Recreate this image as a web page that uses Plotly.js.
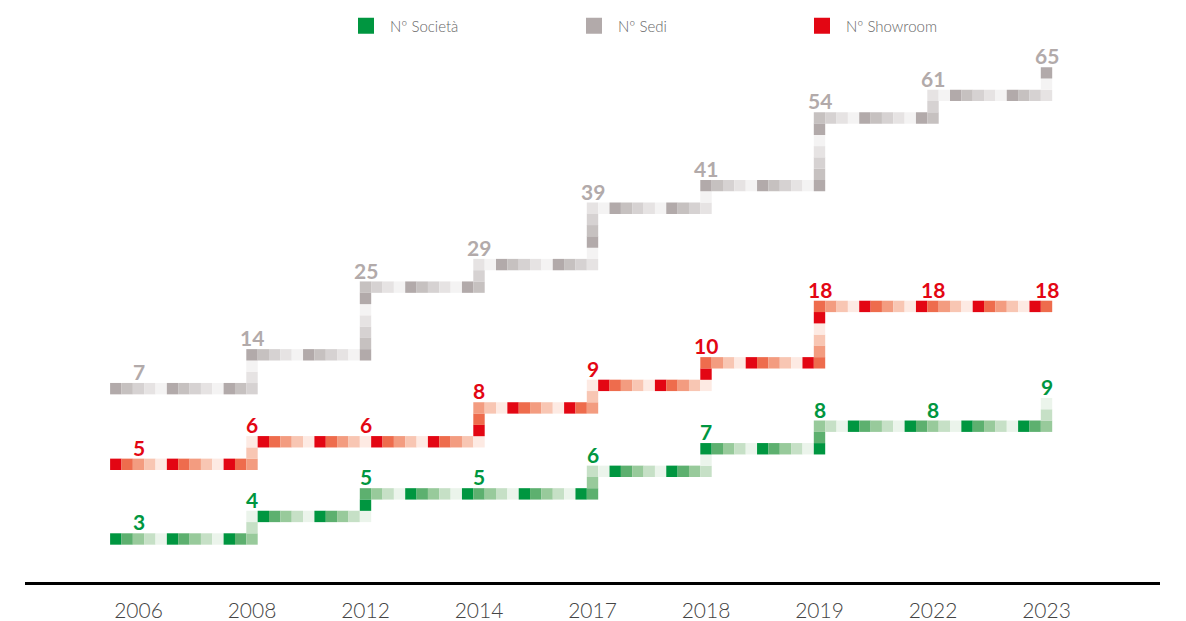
<!DOCTYPE html>
<html>
<head>
<meta charset="utf-8">
<script src="https://cdn.plot.ly/plotly-3.0.1.min.js"></script>
<style>
  html, body { margin: 0; padding: 0; background: #ffffff; }
  #chart { width: 1186px; height: 621px; }
</style>
</head>
<body>
<div id="chart"></div>
<script>
// ---- DATA ----
const years = ['2006', '2008', '2012', '2014', '2017', '2018', '2019', '2022', '2023'];
const societa = [3, 4, 5, 5, 6, 7, 8, 8, 9];
const sedi = [7, 14, 25, 29, 39, 41, 54, 61, 65];
const showroom = [5, 6, 6, 8, 9, 10, 18, 18, 18];
// visual level of each value on the pixel grid (in squares; the infographic is not to scale)
const societaLevel = [0, 2, 4, 4, 6, 8, 10, 10, 12];
const sediLevel = [0, 3, 9, 11, 16, 18, 24, 26, 28];
const showroomLevel = [0, 2, 2, 5, 7, 9, 14, 14, 14];
const seriesNames = ['Nº Società', 'Nº Sedi', 'Nº Showroom'];

// ---- STYLE ----
const palettes = {
  green: ['#009640', '#5DB06F', '#98CA9B', '#C6E0C6', '#EBF4EB'],
  grey:  ['#B2AAAA', '#C6C1C0', '#D6D2D2', '#E6E3E3', '#F4F3F3'],
  red:   ['#E30613', '#EE6C4D', '#F39C80', '#F8C6B3', '#FDEAE3']
};
const CELLS = 10;          // squares per category interval
const LEAD = 2;            // squares before the first category
const SQ = 11.4;           // square size in px

function buildPath(levels) {
  const xs = [], ys = [], idx = [];
  let n = 0;
  let c = -LEAD;
  for (let i = 0; i < levels.length - 1; i++) {
    const endC = CELLS * (i + 1);
    while (c <= endC) { xs.push(c / CELLS); ys.push(levels[i]); idx.push(n++); c++; }
    for (let r = levels[i] + 1; r <= levels[i + 1]; r++) {
      xs.push(endC / CELLS); ys.push(r); idx.push(n++);
    }
    c = endC + 1;
  }
  return { xs, ys, idx };
}

const series = [
  { name: seriesNames[0], values: societa, levels: societaLevel, pal: palettes.green, base: 0 },
  { name: seriesNames[2], values: showroom, levels: showroomLevel, pal: palettes.red, base: 6.62 },
  { name: seriesNames[1], values: sedi, levels: sediLevel, pal: palettes.grey, base: 13.33 }
];

const traces = [];
const annotations = [];
series.forEach(s => {
  const p = buildPath(s.levels);
  traces.push({
    type: 'scatter', mode: 'markers', showlegend: false, hoverinfo: 'skip',
    x: p.xs, y: p.ys.map(v => v + s.base),
    marker: { symbol: 'square', size: SQ, color: p.idx.map(k => s.pal[k % 5]), line: { width: 0 } }
  });
  s.values.forEach((v, i) => {
    annotations.push({
      x: i, y: s.levels[i] + s.base, xref: 'x', yref: 'y',
      text: String(v), showarrow: false, yshift: 17,
      font: { family: 'Lato, sans-serif', size: 21, weight: 700, color: s.pal[0] }
    });
  });
});

// legend-only traces
[['Nº Società', palettes.green[0]], ['Nº Sedi', palettes.grey[0]], ['Nº Showroom', palettes.red[0]]].forEach(([nm, col]) => {
  traces.push({
    type: 'scatter', mode: 'markers', name: nm, x: [null], y: [null],
    marker: { symbol: 'square', size: 16, color: col }, hoverinfo: 'skip'
  });
});

const layout = {
  width: 1186, height: 621,
  margin: { l: 25, r: 26, t: 40, b: 39 },
  paper_bgcolor: '#ffffff', plot_bgcolor: '#ffffff',
  showlegend: true,
  legend: {
    orientation: 'h', xref: 'container', yref: 'container',
    x: 342 / 1186, xanchor: 'left', y: 1 - 26 / 621, yanchor: 'middle',
    entrywidth: 175, entrywidthmode: 'pixels', itemwidth: 38,
    font: { family: 'Lato, sans-serif', size: 15, weight: 300, color: '#666666' },
    bgcolor: 'rgba(0,0,0,0)'
  },
  xaxis: {
    range: [-1, 9], tickvals: years.map((_, i) => i), ticktext: years,
    showgrid: false, zeroline: false, showline: true, linecolor: '#000000', linewidth: 3,
    ticks: '', ticklabelstandoff: 8,
    tickfont: { family: 'Lato, sans-serif', size: 21, weight: 300, color: '#444444' },
    fixedrange: true
  },
  yaxis: { range: [-3.813, 44.02], visible: false, fixedrange: true },
  annotations: annotations,
  font: { family: 'Lato, sans-serif' }
};

Plotly.newPlot('chart', traces, layout, { displayModeBar: false, staticPlot: true });
</script>
</body>
</html>
